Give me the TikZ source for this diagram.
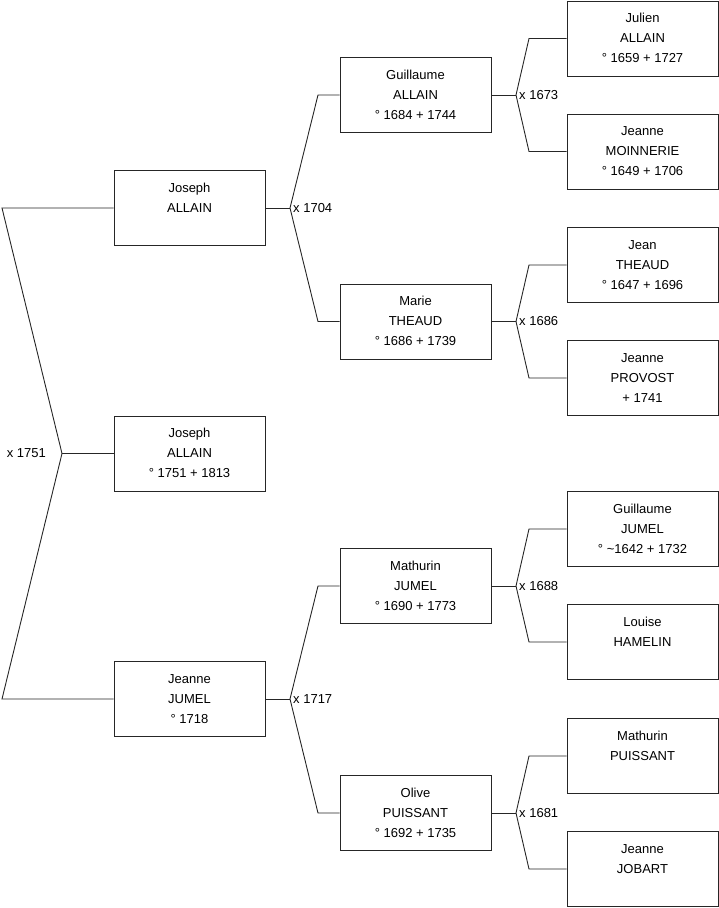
\documentclass[tikz,border=0pt]{standalone}
\usepackage{fontspec}
\setmainfont{Liberation Sans}
\usetikzlibrary{positioning}
\newcommand{\pers}[3]{\strut #1\\\strut #2\\\strut #3}
\begin{document}
\begin{tikzpicture}[x=1pt,y=-1pt,
  person/.style={draw=black!85, line width=0.9pt, minimum width=151pt, minimum height=75pt,
    inner sep=0pt, align=center, font=\fontsize{13}{20}\selectfont},
  link/.style={draw=black!85, line width=0.9pt},
  wed/.style={font=\fontsize{13}{20}\selectfont, inner sep=3pt}]
\useasboundingbox (0,0) rectangle (719,908);
% generation 0 and 1
\node[person] (root) at (189.5,453.5) {\pers{Joseph}{ALLAIN}{° 1751 + 1813}};
\node[person] (f) at (189.5,208) {\pers{Joseph}{ALLAIN}{}};
\node[person] (m) at (189.5,699) {\pers{Jeanne}{JUMEL}{° 1718}};
% generation 2
\node[person] (ff) at (415.5,95) {\pers{Guillaume}{ALLAIN}{° 1684 + 1744}};
\node[person] (fm) at (415.5,321.5) {\pers{Marie}{THEAUD}{° 1686 + 1739}};
\node[person] (mf) at (415.5,586) {\pers{Mathurin}{JUMEL}{° 1690 + 1773}};
\node[person] (mm) at (415.5,813) {\pers{Olive}{PUISSANT}{° 1692 + 1735}};
% generation 3
\node[person] (fff) at (642.5,38.5) {\pers{Julien}{ALLAIN}{° 1659 + 1727}};
\node[person] (ffm) at (642.5,151.5) {\pers{Jeanne}{MOINNERIE}{° 1649 + 1706}};
\node[person] (fmf) at (642.5,265) {\pers{Jean}{THEAUD}{° 1647 + 1696}};
\node[person] (fmm) at (642.5,378) {\pers{Jeanne}{PROVOST}{+ 1741}};
\node[person] (mff) at (642.5,529) {\pers{Guillaume}{JUMEL}{° \textasciitilde1642 + 1732}};
\node[person] (mfm) at (642.5,642) {\pers{Louise}{HAMELIN}{}};
\node[person] (mmf) at (642.5,756) {\pers{Mathurin}{PUISSANT}{}};
\node[person] (mmm) at (642.5,869) {\pers{Jeanne}{JOBART}{}};
% junctions
\coordinate (j0) at (62,453.5);
\coordinate (c0a) at (2,208);
\coordinate (c0b) at (2,699);
\coordinate (j1) at (290,208);
\coordinate (c1a) at (318,95);
\coordinate (c1b) at (318,321.5);
\coordinate (j2) at (290,699);
\coordinate (c2a) at (318,586);
\coordinate (c2b) at (318,813);
\coordinate (j3) at (516,95);
\coordinate (c3a) at (529,38.5);
\coordinate (c3b) at (529,151.5);
\coordinate (j4) at (516,321.5);
\coordinate (c4a) at (529,265);
\coordinate (c4b) at (529,378);
\coordinate (j5) at (516,586);
\coordinate (c5a) at (529,529);
\coordinate (c5b) at (529,642);
\coordinate (j6) at (516,813);
\coordinate (c6a) at (529,756);
\coordinate (c6b) at (529,869);
% links
\draw[link] (root.west) -- (j0);
\draw[link] (f.west) -- (c0a) -- (j0) -- (c0b) -- (m.west);
\draw[link] (f.east) -- (j1);
\draw[link] (ff.west) -- (c1a) -- (j1) -- (c1b) -- (fm.west);
\draw[link] (m.east) -- (j2);
\draw[link] (mf.west) -- (c2a) -- (j2) -- (c2b) -- (mm.west);
\draw[link] (ff.east) -- (j3);
\draw[link] (fff.west) -- (c3a) -- (j3) -- (c3b) -- (ffm.west);
\draw[link] (fm.east) -- (j4);
\draw[link] (fmf.west) -- (c4a) -- (j4) -- (c4b) -- (fmm.west);
\draw[link] (mf.east) -- (j5);
\draw[link] (mff.west) -- (c5a) -- (j5) -- (c5b) -- (mfm.west);
\draw[link] (mm.east) -- (j6);
\draw[link] (mmf.west) -- (c6a) -- (j6) -- (c6b) -- (mmm.west);
% marriages
\node[wed, left=13pt of j0] (w0) {x 1751};
\node[wed, anchor=west] (w1) at (j1) {x 1704};
\node[wed, anchor=west] (w2) at (j2) {x 1717};
\node[wed, anchor=west] (w3) at (j3) {x 1673};
\node[wed, anchor=west] (w4) at (j4) {x 1686};
\node[wed, anchor=west] (w5) at (j5) {x 1688};
\node[wed, anchor=west] (w6) at (j6) {x 1681};
\end{tikzpicture}
\end{document}
